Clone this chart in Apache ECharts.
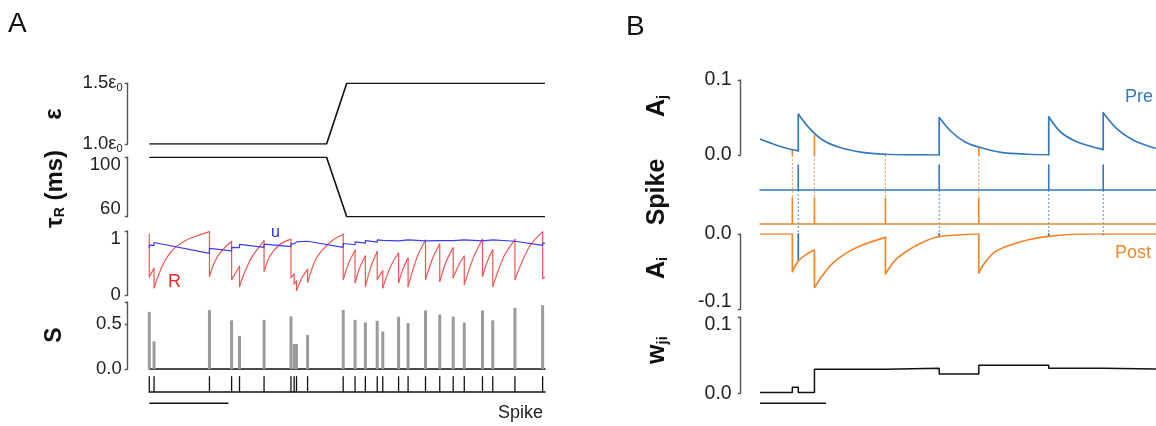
<!DOCTYPE html>
<html><head><meta charset="utf-8">
<script src="https://cdn.jsdelivr.net/npm/echarts@6/dist/echarts.min.js"></script>
<style>html,body{margin:0;padding:0;background:#fff}#c{width:1156px;height:426px}</style>
</head><body><div id="c"></div>
<script>
// ---------------- Panel A data (time in ms) ----------------
const epsSeries = [[0,1.0],[224,1.0],[249.5,1.5],[500,1.5]];
const tauSeries = [[0,100],[224,100],[249.5,60],[500,60]];
const spikesA = [0,6,76,104,114,145,179,183,186,200,245,260,273,288,295,315,327,349,367,384,398,421,434,462,497];
const sValues = [0.64,0.31,0.66,0.545,0.37,0.55,0.59,0.28,0.28,0.38,0.66,0.55,0.52,0.54,0.42,0.585,0.515,0.655,0.61,0.585,0.52,0.655,0.545,0.685,0.715];
const rSeries = [
[0,0.95],[0,0.28],[6,0.42],[6,0.11],[11,0.29],[17,0.47],[24,0.62],[32.5,0.74],[47,0.86],[64,0.94],[76,0.99],
[76,0.29],[83,0.53],[91.5,0.69],[104,0.84],
[104,0.24],[114,0.45],
[114,0.13],[121,0.37],[129,0.58],[138,0.74],[145,0.85],
[145,0.37],[152.5,0.61],[163,0.77],[173.5,0.85],[179,0.87],
[179,0.27],[183,0.33],
[183,0.17],[186,0.22],
[186,0.07],[193,0.27],[200,0.40],
[200,0.20],[210,0.55],[220,0.72],[232,0.86],[245,0.95],
[245,0.24],[252,0.50],[260,0.70],
[260,0.19],[266,0.43],[273,0.61],
[273,0.13],[280,0.44],[288,0.68],
[288,0.24],[295,0.38],
[295,0.11],[305,0.45],[315,0.66],
[315,0.19],[321,0.42],[327,0.58],
[327,0.13],[338,0.58],[349,0.86],
[349,0.24],[358,0.57],[367,0.80],
[367,0.21],[375,0.52],[384,0.74],
[384,0.27],[391,0.47],[398,0.61],
[398,0.16],[410,0.60],[421,0.87],
[421,0.29],[427,0.52],[434,0.71],
[434,0.13],[448,0.60],[462,0.87],
[462,0.24],[480,0.75],[497,0.99],
[497,0.26],[500,0.28]
];
const uSeries = [
[0,0.73],[0,0.78],[6,0.775],[6,0.82],[76,0.65],[76,0.73],[104,0.69],[104,0.745],[114,0.74],[114,0.79],
[145,0.745],[145,0.795],[179,0.755],[179,0.80],[183,0.80],[183,0.83],[186,0.83],[186,0.85],[200,0.84],[200,0.865],
[245,0.745],[245,0.805],[260,0.785],[260,0.83],[273,0.81],[273,0.85],[288,0.825],[288,0.86],[295,0.855],[295,0.88],
[315,0.845],[315,0.875],[327,0.86],[327,0.885],[349,0.845],[349,0.875],[367,0.85],[367,0.88],[384,0.85],[384,0.88],
[398,0.86],[398,0.885],[421,0.845],[421,0.875],[434,0.86],[434,0.885],[462,0.84],[462,0.87],[497,0.775],[497,0.81],[500,0.808]
];
const scaleBarA = [0,100];

// ---------------- Panel B data (time in ms) ----------------
const spikesPre = [58,271.5,437.5,520];
const spikesPost = [49,82.5,190,331.5];
const ajSeries = [[0,0.0213],[20,0.0147],[40,0.009],[58,0.0055],[58,0.0547],[75,0.0356],[95,0.02],[120,0.0103],[155,0.0036],[190,0.001],[230,0.0002],[271.5,0],
[271.5,0.050],[290,0.031],[310,0.0177],[332.5,0.0103],[365,0.0036],[405,0.001],[437.5,0.0003],
[437.5,0.051],[455,0.031],[480,0.0177],[520,0.0072],[520,0.0564],[540,0.0356],[565,0.02],[594,0.0103],[600,0.009]];
const aiSeries = [[0,0],[49,0],[49,-0.05],[58,-0.036],[70,-0.027],[82.5,-0.0213],[82.5,-0.071],[95,-0.0547],[110,-0.039],[130,-0.0257],[155,-0.0147],[190,-0.0044],
[190,-0.0531],[205,-0.0347],[225,-0.0213],[245,-0.0115],[270,-0.0036],[300,-0.0013],[331.5,0],
[331.5,-0.0516],[340,-0.039],[355,-0.0244],[375,-0.016],[405,-0.008],[440,-0.0027],[490,0],[600,0]];
const ajAtPost = [0.006,0.026,0.001,0.0103];
const aiAtPre = [-0.035,-0.0036,-0.0027,-0.0005];
const wSeries = [[0,0.001],[49,0.008],[58,0.001],[82.5,0.0315],[190,0.033],[271.5,0.0254],[331.5,0.0368],[437.5,0.033],[520,0.032],[600,0.032]];
const scaleBarB = [0,100];

// ---------------- styling ----------------
const FONT = "'Liberation Sans', Arial, Helvetica, sans-serif";
const BLUE = '#3479bd', ORANGE = '#f0862e', RED = '#f05555', UBLUE = '#3c3cf0';
function rich(fs) {
  return {
    dn:{padding:[15,0,0,0], fontSize:fs, fontFamily:FONT, color:'#222'},
    up:{padding:[0,0,15,0], fontSize:fs, fontFamily:FONT, color:'#222'},
    e:{fontSize:fs, fontFamily:FONT, color:'#222'},
    s:{fontSize:Math.round(fs*0.62), fontFamily:FONT, color:'#222', padding:[10,0,0,0]}
  };
}

const gA = {left:149.3, width:395.7}, gB = {left:760, width:400};
const grids = [
  Object.assign({top:83.3, height:60.7}, gA),   //0 eps
  Object.assign({top:157.3, height:59.4}, gA),  //1 tau
  Object.assign({top:231, height:64}, gA),      //2 R,u
  Object.assign({top:302, height:67}, gA),      //3 S
  Object.assign({top:376.7, height:15}, gA),    //4 spikes
  Object.assign({top:402.3, height:1}, gA),     //5 scale
  Object.assign({top:80, height:75}, gB),       //6 Aj
  Object.assign({top:165, height:25}, gB),      //7 pre
  Object.assign({top:198.3, height:25}, gB),    //8 post
  Object.assign({top:234, height:75.3}, gB),    //9 Ai
  Object.assign({top:317.3, height:76}, gB),    //10 w
  Object.assign({top:402.3, height:1}, gB)      //11 scale
];

function xAx(g, max, line) {
  return {type:'value', gridIndex:g, min:0, max:max, show: !!line,
    axisLine:{show:!!line, onZero:true, lineStyle:{color: line || '#000', width:1.5}},
    axisTick:{show:false}, axisLabel:{show:false}, splitLine:{show:false}};
}
function yAx(g, min, max, labels, offset, ticks, margin, fs) {
  if (!labels) return {type:'value', gridIndex:g, min:min, max:max, show:false, splitLine:{show:false}};
  return {type:'value', gridIndex:g, min:min, max:max, offset:offset,
    axisLine:{show:true, onZero:false, lineStyle:{color:'#555', width:1.4}},
    axisTick:{show:true, length:3, customValues: ticks || [min,max], lineStyle:{color:'#555', width:1.4}},
    axisLabel:{show:true, customValues: labels.map(l=>l[0]), margin:margin, fontSize:fs, color:'#222', fontFamily:FONT,
      formatter: v => { const l = labels.find(x=>Math.abs(x[0]-v)<1e-9); return l ? l[1] : ''; }, rich: rich(fs)},
    splitLine:{show:false}};
}

const xAxes = [
  xAx(0,500), xAx(1,500), xAx(2,500), xAx(3,500,'#111'), xAx(4,500,'#111'), xAx(5,500),
  xAx(6,600), xAx(7,600,BLUE), xAx(8,600,ORANGE), xAx(9,600), xAx(10,600), xAx(11,600)
];
const yAxes = [
  yAx(0,1.0,1.5,[[1.5,'{e|1.5ε}{s|0}'],[1.0,'{e|1.0ε}{s|0}']],21.6,null,5,18.5),
  yAx(1,60,100,[[100,'{dn|100}'],[60,'{up|60}']],21.6,null,7,18.5),
  yAx(2,0,1,[[1,'{dn|1}'],[0,'0']],21.6,null,7,18.5),
  yAx(3,0,0.75,[[0.5,'0.5'],[0,'0.0']],21.6,[0,0.5,0.75],6,18.5),
  yAx(4,0,1), yAx(5,0,1),
  yAx(6,0,0.1,[[0.1,'0.1'],[0,'0.0']],19.3,null,9,19.5),
  yAx(7,0,1), yAx(8,0,1),
  yAx(9,-0.1,0,[[0,'0.0'],[-0.1,'{up|-0.1}']],19.3,null,9,19.5),
  yAx(10,0,0.1,[[0.1,'{dn|0.1}'],[0,'0.0']],19.3,null,9,19.5),
  yAx(11,0,1)
];

// split a trace into smooth pieces and the vertical jumps between them
function splitJumps(data) {
  const curve = [], jumps = [];
  data.forEach((p, i) => {
    if (i > 0 && p[0] === data[i-1][0]) { jumps.push([p[0], data[i-1][1], p[1]]); curve.push([p[0], '-']); }
    curve.push(p);
  });
  return {curve, jumps};
}

function vseg(color, width) {
  return function(params, api){
    const x = api.value(0), a = api.value(1), b = api.value(2);
    const p0 = api.coord([x,a]), p1 = api.coord([x,b]);
    return {type:'line', shape:{x1:p0[0],y1:p0[1],x2:p1[0],y2:p1[1]}, style:{stroke:color, lineWidth:width, lineCap:'round'}};
  };
}
function lineS(g, data, color, width, extra) {
  return Object.assign({type:'line', xAxisIndex:g, yAxisIndex:g, data:data, symbol:'none', silent:true, connectNulls:false,
    lineStyle:{color:color, width:width}, itemStyle:{color:color}}, extra||{});
}
function segS(g, data, color, width) {
  return {type:'custom', xAxisIndex:g, yAxisIndex:g, data:data, renderItem:vseg(color,width),
    encode:{x:0, y:[1,2]}, silent:true};
}
function smoothTrace(g, data, color, width, sm) {
  const s = splitJumps(data);
  return [lineS(g, s.curve, color, width, {smooth:sm}), segS(g, s.jumps, color, width)];
}

const series = [
  lineS(0, epsSeries, '#111', 1.6),
  lineS(1, tauSeries, '#111', 1.6),
  ...smoothTrace(2, rSeries, RED, 1.2, 0.3),
  lineS(2, uSeries, UBLUE, 1.2),
  {type:'bar', xAxisIndex:3, yAxisIndex:3, data: spikesA.map((t,i)=>[t, sValues[i]]), barWidth:3,
    itemStyle:{color:'#9b9b9b'}, silent:true},
  segS(4, spikesA.map(t=>[t,0,1]), '#111', 1.3),
  lineS(5, scaleBarA.map(t=>[t,0]), '#111', 1.5),
  segS(6, spikesPost.map((t,i)=>[t,0,ajAtPost[i]]), ORANGE, 1.6),
  ...smoothTrace(6, ajSeries, BLUE, 1.7, 0.3),
  segS(7, spikesPre.map(t=>[t,0,1]), BLUE, 1.6),
  segS(8, spikesPost.map(t=>[t,0,1]), ORANGE, 1.6),
  segS(9, spikesPre.map((t,i)=>[t,0,aiAtPre[i]]), BLUE, 1.8),
  ...smoothTrace(9, aiSeries, ORANGE, 1.7, 0.3),
  lineS(10, wSeries, '#111', 1.5, {step:'end'}),
  lineS(11, scaleBarB.map(t=>[t,0]), '#111', 1.5)
];

const chart = echarts.init(document.getElementById('c'), null, {renderer:'canvas'});
chart.setOption({animation:false, backgroundColor:'#fff', grid:grids, xAxis:xAxes, yAxis:yAxes, series:series});

// ---------- texts and dotted connectors (positions via the chart's scales) ----------
function TR(fs) {
  return {
    b:{fontSize:fs, fontWeight:'bold', fontFamily:FONT, color:'#111'},
    s:{fontSize:Math.round(fs*0.6), fontWeight:'bold', fontFamily:FONT, color:'#111', padding:[Math.round(fs*0.45),0,0,0]}
  };
}
function rotText(x, y, text, fs) {
  return {type:'text', x:x, y:y, rotation:Math.PI/2, silent:true,
    style:{text:text, rich:TR(fs), fontFamily:FONT, fontSize:fs, fontWeight:'bold', fill:'#111',
      textAlign:'center', textVerticalAlign:'middle', align:'center', verticalAlign:'middle'}};
}
function plainText(x, y, text, size, color, align) {
  return {type:'text', x:x, y:y, silent:true,
    style:{text:text, fontFamily:FONT, fontSize:size, fill:color,
      textAlign:align||'left', textVerticalAlign:'middle', align:align||'left', verticalAlign:'middle'}};
}
const gfx = [
  plainText(8, 24, 'A', 28, '#111'),
  plainText(626, 27, 'B', 28, '#111'),
  rotText(54, 114, '{b|ε}', 24),
  rotText(55, 189, '{b|τ}{s|R}{b| (ms)}', 24),
  rotText(55, 335, '{b|S}', 23),
  rotText(657, 106, '{b|A}{s|j}', 25),
  rotText(657, 192, '{b|Spike}', 25),
  rotText(657, 268, '{b|A}{s|i}', 25),
  rotText(657, 350, '{b|w}{s|ji}', 25),
  plainText(271, 233, 'u', 16, '#2a2ad8'),
  plainText(168, 282, 'R', 18, '#e42a2a'),
  plainText(543, 413, 'Spike', 18, '#222', 'right'),
  plainText(1125, 97, 'Pre', 18, BLUE),
  plainText(1115, 253, 'Post', 18, ORANGE)
];
spikesPost.forEach(t => {
  const a = chart.convertToPixel({gridIndex:6}, [t, 0]);
  const b = chart.convertToPixel({gridIndex:8}, [t, 1]);
  gfx.push({type:'line', silent:true, shape:{x1:a[0],y1:a[1],x2:b[0],y2:b[1]},
    style:{stroke:ORANGE, lineWidth:1, lineDash:[2,2], opacity:0.85}});
});
spikesPre.forEach(t => {
  const a = chart.convertToPixel({gridIndex:7}, [t, 0]);
  const b = chart.convertToPixel({gridIndex:9}, [t, 0]);
  gfx.push({type:'line', silent:true, shape:{x1:a[0],y1:a[1],x2:b[0],y2:b[1]},
    style:{stroke:BLUE, lineWidth:1, lineDash:[2,2], opacity:0.85}});
});
chart.setOption({graphic:{elements:gfx}});
</script></body></html>
